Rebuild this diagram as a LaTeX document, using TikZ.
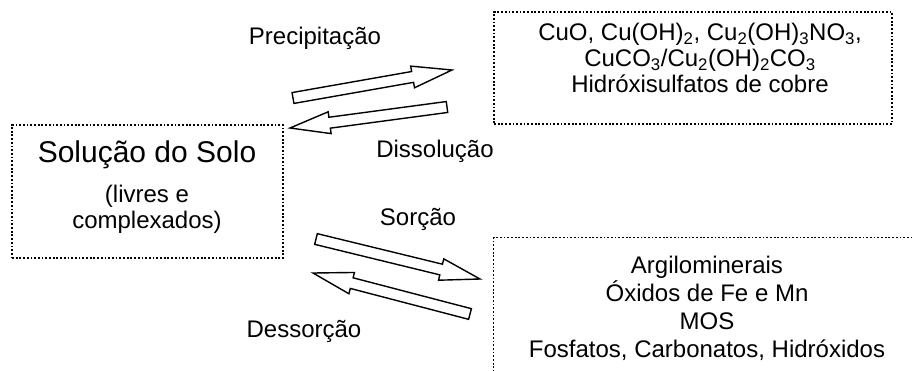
\documentclass[tikz,border=0pt]{standalone}
\usepackage{fontspec}
\setmainfont{Liberation Sans}
\usetikzlibrary{calc}
\tikzset{
         box/.style={draw,line width=1.3pt,dash pattern=on 1.8pt off 1.9pt,inner sep=0pt},
         txt/.style={align=center,inner sep=0pt,font=\fontsize{24}{26}\selectfont},
         lbl/.style={anchor=base,inner sep=0pt,font=\fontsize{24}{28}\selectfont},
         hollow/.style=
          {
           line width=1.4pt,line join=miter,
           to path={($(\tikztostart)!5.5pt!90:(\tikztotarget)$)
            --($(\tikztotarget)!40pt!(\tikztostart)!5.5pt!90:(\tikztotarget)$)
            --($(\tikztotarget)!40pt!(\tikztostart)!11pt!90:(\tikztotarget)$)
            --(\tikztotarget)
            --($(\tikztotarget)!40pt!(\tikztostart)!11pt!-90:(\tikztotarget)$)
            --($(\tikztotarget)!40pt!(\tikztostart)!5.5pt!-90:(\tikztotarget)$)
            --($(\tikztostart)!5.5pt!-90:(\tikztotarget)$)--cycle}
          }
        }
\begin{document}
\begin{tikzpicture}[x=1pt,y=-1pt]

\clip (0,0) rectangle (912,370); %frame

%the boxes
\node[box,minimum width=271pt,minimum height=133pt] (solo) at (147.5,191.5){};
\node[box,minimum width=398pt,minimum height=112pt] (prec) at (693,68){};
\node[box,minimum width=450pt,minimum height=170pt,anchor=north west] (sorv) at (493,237){};

%box texts
\node[txt] (solotxt) at (147,187.5){{\fontsize{30}{30}\selectfont Solução do Solo}\\[14pt](livres e\\complexados)};
\node[txt] (prectxt) at (700,58){CuO, Cu(OH)\textsubscript{2}, Cu\textsubscript{2}(OH)\textsubscript{3}NO\textsubscript{3},\\
CuCO\textsubscript{3}/Cu\textsubscript{2}(OH)\textsubscript{2}CO\textsubscript{3}\\Hidróxisulfatos de cobre};
\node[txt,font=\fontsize{24}{28}\selectfont] (sorvtxt) at (707,308){Argilominerais\\Óxidos de Fe e Mn\\MOS\\Fosfatos, Carbonatos, Hidróxidos};

%arrow ends
\coordinate (p1) at (293,98);
\coordinate (p2) at (452,70);
\coordinate (d1) at (447,107);
\coordinate (d2) at (290,128);
\coordinate (s1) at (316,239);
\coordinate (s2) at (480,279);
\coordinate (e1) at (470,314);
\coordinate (e2) at (313,273);

%some arrows
\draw[hollow] (p1) to (p2); %precipitation
\draw[hollow] (d1) to (d2); %dissolution
\draw[hollow] (s1) to (s2); %sorption
\draw[hollow] (e1) to (e2); %desorption

%some labels
\node[lbl] (lprec) at (315,44){Precipitação};
\node[lbl] (ldiss) at (435,157){Dissolução};
\node[lbl] (lsorc) at (418,225){Sorção};
\node[lbl] (ldess) at (304,337){Dessorção};
\end{tikzpicture}
\end{document}
